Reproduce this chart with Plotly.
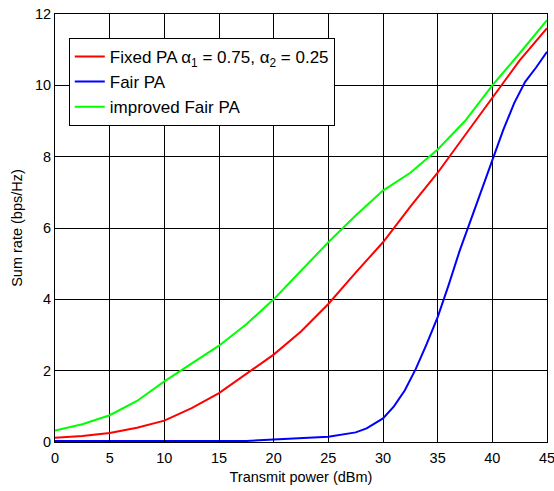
import plotly.graph_objects as go

x_red = [0, 2.5, 5, 7.5, 10, 12.5, 15, 17.5, 20, 22.5, 25, 27.5, 30, 32.5, 35, 37.5, 40, 42.5, 45]
y_red = [0.12, 0.17, 0.25, 0.4, 0.6, 0.95, 1.37, 1.9, 2.45, 3.1, 3.87, 4.75, 5.6, 6.6, 7.55, 8.6, 9.65, 10.7, 11.6]

x_green = [0, 2.5, 5, 7.5, 10, 12.5, 15, 17.5, 20, 22.5, 25, 27.5, 30, 32.5, 35, 37.5, 40, 42.5, 45]
y_green = [0.32, 0.5, 0.75, 1.15, 1.7, 2.2, 2.7, 3.3, 4.0, 4.8, 5.6, 6.35, 7.05, 7.55, 8.2, 9.0, 10.0, 10.9, 11.83]

x_blue = [0, 5, 10, 15, 17.5, 20, 22.5, 25, 27.5, 28.5, 30, 31, 32, 33, 34, 35, 36, 37, 38, 39, 40, 41, 42, 43, 44, 45]
y_blue = [0.03, 0.03, 0.03, 0.03, 0.03, 0.07, 0.1, 0.15, 0.27, 0.38, 0.66, 1.0, 1.45, 2.05, 2.75, 3.5, 4.4, 5.35, 6.2, 7.05, 7.95, 8.75, 9.5, 10.1, 10.5, 10.94]

names = ["Fixed PA \u03b1<sub>1</sub> = 0.75, \u03b1<sub>2</sub> = 0.25", "Fair PA", "improved Fair PA"]
x_ticks = [0, 5, 10, 15, 20, 25, 30, 35, 40, 45]
y_ticks = [0, 2, 4, 6, 8, 10, 12]

fig = go.Figure()
fig.add_trace(go.Scatter(x=x_red, y=y_red, mode="lines", name=names[0], line=dict(color="#ff0000", width=2)))
fig.add_trace(go.Scatter(x=x_blue, y=y_blue, mode="lines", name=names[1], line=dict(color="#0000ff", width=2)))
fig.add_trace(go.Scatter(x=x_green, y=y_green, mode="lines", name=names[2], line=dict(color="#00ff00", width=2)))

FONT = "Liberation Sans, Arial"
axis_common = dict(
    showgrid=True, gridcolor="black", gridwidth=1,
    showline=True, linecolor="black", linewidth=1, mirror=True,
    zeroline=False, ticks="inside", ticklen=5, tickcolor="black",
    tickfont=dict(family=FONT, size=14.5, color="black"),
    ticklabeloverflow="allow", automargin=False,
)

fig.update_layout(
    width=554, height=491,
    margin=dict(l=55, r=7, t=14, b=49),
    paper_bgcolor="white", plot_bgcolor="white",
    font=dict(family=FONT, size=14.5, color="black"),
    xaxis=dict(range=[0, 45], tickvals=x_ticks, ticklabelstandoff=3,
               title=dict(text="Transmit power (dBm)", standoff=6, font=dict(size=14.5)),
               **axis_common),
    yaxis=dict(range=[0, 12], tickvals=y_ticks,
               title=dict(text="Sum rate (bps/Hz)", standoff=8, font=dict(size=14.5)),
               **axis_common),
    legend=dict(x=0.028, y=0.944, xanchor="left", yanchor="top",
                bgcolor="white", bordercolor="black", borderwidth=1,
                font=dict(family=FONT, size=17), tracegroupgap=0),
    showlegend=True,
)

fig.write_html("out.html")
